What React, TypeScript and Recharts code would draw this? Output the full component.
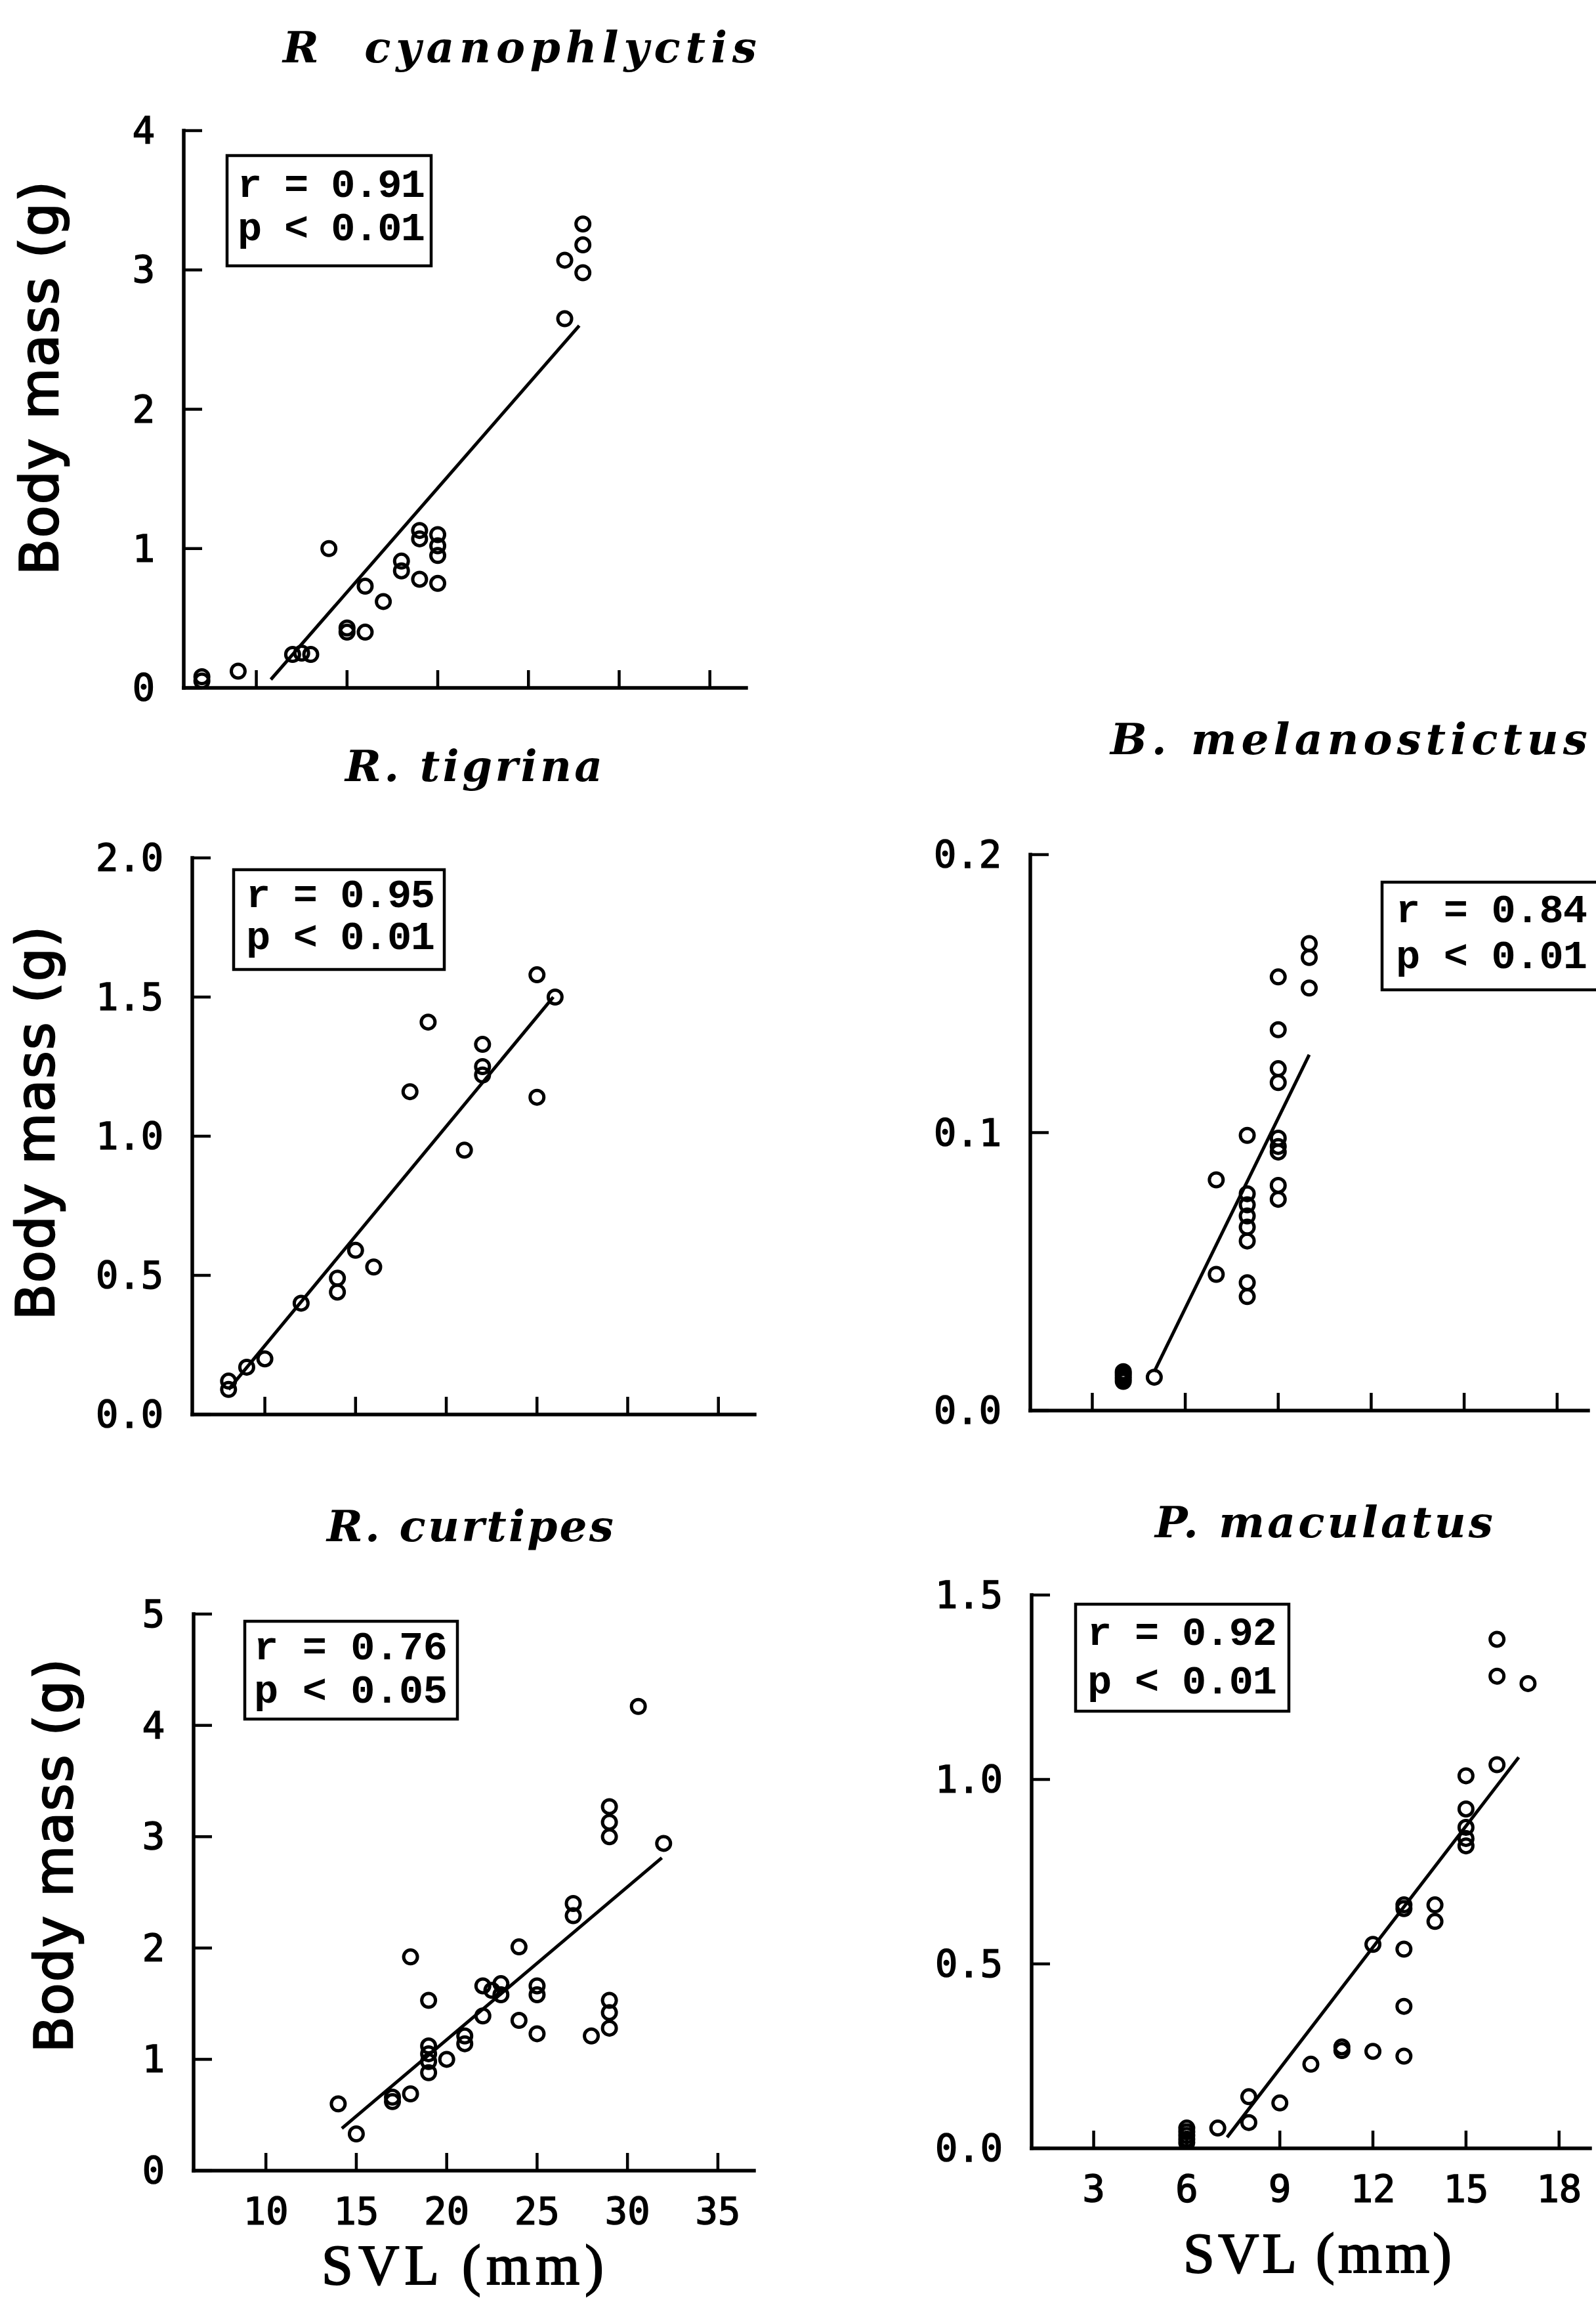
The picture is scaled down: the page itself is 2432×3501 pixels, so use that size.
import React from "react";
import { ScatterChart, Scatter, XAxis, YAxis, ReferenceLine } from "recharts";

// [SVL (mm), body mass (g)]
const cyanophlyctisPts = [
  [7, 0.05], [7, 0.08], [9, 0.12], [12, 0.24], [12.5, 0.25], [13, 0.24], [14, 1.0],
  [15, 0.43], [15, 0.4], [16, 0.4], [16, 0.73], [17, 0.62], [18, 0.91], [18, 0.84],
  [19, 1.13], [19, 1.07], [19, 0.78], [20, 1.1], [20, 1.02], [20, 0.95], [20, 0.75],
  [27, 3.07], [27, 2.65], [28, 3.33], [28, 3.18], [28, 2.98],
];
const cyanophlyctisFit = [[10.8, 0.06], [27.8, 2.6]];

const tigrinaPts = [
  [8, 0.12], [8, 0.09], [9, 0.17], [10, 0.2], [12, 0.4], [14, 0.49], [14, 0.44],
  [15, 0.59], [16, 0.53], [18, 1.16], [19, 1.41], [21, 0.95], [22, 1.33], [22, 1.25],
  [22, 1.22], [25, 1.58], [25, 1.14], [26, 1.5],
];
const tigrinaFit = [[8, 0.09], [25.9, 1.5]];

const curtipesPts = [
  [14, 0.6], [15, 0.33], [17, 0.62], [17, 0.66], [18, 0.69], [18, 1.92], [19, 1.53],
  [19, 1.12], [19, 1.05], [19, 0.98], [19, 0.88], [20, 1.0], [21, 1.14], [21, 1.21],
  [22, 1.39], [22, 1.66], [22.5, 1.62], [23, 1.68], [23, 1.58], [24, 2.01], [24, 1.35],
  [25, 1.66], [25, 1.58], [25, 1.23], [27, 2.4], [27, 2.29], [28, 1.21], [29, 1.53],
  [29, 1.42], [29, 1.28], [29, 3.27], [29, 3.13], [29, 3.0], [30.6, 4.17], [32, 2.94],
];
const curtipesFit = [[14.2, 0.38], [31.9, 2.81]];

const melanostictusPts = [
  [4, 0.0105], [4, 0.0115], [4, 0.0125], [4, 0.0133], [4, 0.014], [5, 0.012],
  [7, 0.049], [7, 0.083], [8, 0.099], [8, 0.078], [8, 0.074], [8, 0.07], [8, 0.066],
  [8, 0.061], [8, 0.046], [8, 0.041], [9, 0.156], [9, 0.137], [9, 0.123], [9, 0.118],
  [9, 0.098], [9, 0.095], [9, 0.093], [9, 0.081], [9, 0.076], [10, 0.168], [10, 0.163],
  [10, 0.152],
];
const melanostictusFit = [[5, 0.014], [10, 0.128]];

const maculatusPts = [
  [6, 0.015], [6, 0.025], [6, 0.035], [6, 0.045], [6, 0.055], [7, 0.055], [8, 0.14],
  [8, 0.07], [9, 0.123], [10, 0.228], [11, 0.275], [11, 0.265], [12, 0.263], [12, 0.553],
  [13, 0.25], [13, 0.385], [13, 0.54], [13, 0.66], [13, 0.65], [14, 0.66], [14, 0.615],
  [15, 1.01], [15, 0.92], [15, 0.87], [15, 0.84], [15, 0.82], [16, 1.04], [16, 1.28],
  [16, 1.38], [17, 1.26],
];
const maculatusFit = [[7.3, 0.03], [16.7, 1.06]];

const frogSvlTicks = [10, 15, 20, 25, 30, 35];
const toadSvlTicks = [3, 6, 9, 12, 15, 18];
const cyanophlyctisMassTicks = [0, 1, 2, 3, 4];
const tigrinaMassTicks = [0, 0.5, 1, 1.5, 2];
const curtipesMassTicks = [0, 1, 2, 3, 4, 5];
const melanostictusMassTicks = [0, 0.1, 0.2];
const maculatusMassTicks = [0, 0.5, 1, 1.5];

const ink = "#000";
const tickFont = "DejaVu Sans Mono";

function SvlTick(props: any) {
  const { x, y, payload, show } = props;
  return (
    <g>
      <line x1={x} y1={y} x2={x} y2={y - 27} stroke={ink} strokeWidth={4.5} />
      {show && (
        <text x={x} y={y + 82} textAnchor="middle" fontFamily={tickFont} fontSize={57}
          fill={ink} stroke={ink} strokeWidth={1.6}>
          {payload.value}
        </text>
      )}
    </g>
  );
}

function MassTick(props: any) {
  const { x, y, payload, digits } = props;
  return (
    <g>
      <line x1={x} y1={y} x2={x + 28} y2={y} stroke={ink} strokeWidth={4.5} />
      <text x={x - 44} y={y + 20} textAnchor="end" fontFamily={tickFont} fontSize={57}
        fill={ink} stroke={ink} strokeWidth={1.6}>
        {Number(payload.value).toFixed(digits)}
      </text>
    </g>
  );
}

const ring = (p: any) => (
  <circle cx={p.cx} cy={p.cy} r={10.5} fill="none" stroke={ink} strokeWidth={5} />
);

const YW = 150;
const MT = 40;
const MR = 40;
const XH = 130;

function Panel(props: any) {
  const { left, top, w, h, xDomain, xTicks, xLabels, yDomain, yTicks, digits, pts, fit } = props;
  const data = pts.map(([svl, mass]: number[]) => ({ svl, mass }));
  return (
    <div style={{ position: "absolute", left: left - YW, top: top - MT }}>
      <ScatterChart
        width={YW + w + MR}
        height={MT + h + XH}
        margin={{ top: MT, right: MR, bottom: 0, left: 0 }}
      >
        <XAxis
          type="number"
          dataKey="svl"
          domain={xDomain}
          ticks={xTicks}
          interval={0}
          height={XH}
          allowDataOverflow
          axisLine={{ stroke: ink, strokeWidth: 5.5, strokeLinecap: "square" }}
          tickLine={false}
          tickSize={0}
          tickMargin={0}
          tick={(p: any) => <SvlTick {...p} show={xLabels} />}
        />
        <YAxis
          type="number"
          dataKey="mass"
          domain={yDomain}
          ticks={yTicks}
          interval={0}
          width={YW}
          allowDataOverflow
          axisLine={{ stroke: ink, strokeWidth: 5.5, strokeLinecap: "square" }}
          tickLine={false}
          tickSize={0}
          tickMargin={0}
          tick={(p: any) => <MassTick {...p} digits={digits} />}
        />
        <ReferenceLine
          segment={[
            { x: fit[0][0], y: fit[0][1] },
            { x: fit[1][0], y: fit[1][1] },
          ]}
          stroke={ink}
          strokeWidth={5}
          ifOverflow="visible"
        />
        <Scatter data={data} shape={ring} isAnimationActive={false} />
      </ScatterChart>
    </div>
  );
}

function StatBox({ x, y, w, h, tx, b1, b2, len, r, p }: any) {
  const font = { fontFamily: "Liberation Mono", fontWeight: 700, fontSize: 62, fill: ink };
  return (
    <g>
      <rect x={x} y={y} width={w} height={h} fill="#fff" stroke={ink} strokeWidth={4.5} />
      <text x={tx} y={b1} textLength={len} lengthAdjust="spacing" style={{ whiteSpace: "pre" }} {...font}>
        {`r = ${r}`}
      </text>
      <text x={tx} y={b2} textLength={len} lengthAdjust="spacing" style={{ whiteSpace: "pre" }} {...font}>
        {`p < ${p}`}
      </text>
    </g>
  );
}

function Title({ x, y, len, children }: any) {
  return (
    <text
      x={x}
      y={y}
      textLength={len}
      lengthAdjust="spacing"
      fontFamily="DejaVu Serif"
      fontStyle="italic"
      fontWeight={700}
      fontSize={66}
      fill={ink}
      style={{ whiteSpace: "pre" }}
    >
      {children}
    </text>
  );
}

function MassLabel({ x, y }: any) {
  return (
    <text
      transform={`translate(${x}, ${y}) rotate(-90)`}
      textAnchor="middle"
      textLength={600}
      lengthAdjust="spacing"
      fontFamily="DejaVu Sans"
      fontSize={80}
      fill={ink}
      stroke={ink}
      strokeWidth={2.5}
    >
      Body mass (g)
    </text>
  );
}

function SvlLabel({ x, y, len }: any) {
  return (
    <text x={x} y={y} textLength={len} lengthAdjust="spacing" fontFamily="Liberation Serif"
      fontSize={86} fill={ink} stroke={ink} strokeWidth={2}>
      SVL (mm)
    </text>
  );
}

export default function App() {
  return (
    <div
      style={{
        position: "absolute",
        left: 0,
        top: 0,
        width: 2432,
        height: 3501,
        background: "#fff",
        overflow: "hidden",
      }}
    >
      <Panel left={280} top={199} w={857} h={849} xDomain={[6, 37]} xTicks={frogSvlTicks} xLabels={false}
        yDomain={[0, 4]} yTicks={cyanophlyctisMassTicks} digits={0} pts={cyanophlyctisPts} fit={cyanophlyctisFit} />
      <Panel left={293} top={1307} w={857} h={848} xDomain={[6, 37]} xTicks={frogSvlTicks} xLabels={false}
        yDomain={[0, 2]} yTicks={tigrinaMassTicks} digits={1} pts={tigrinaPts} fit={tigrinaFit} />
      <Panel left={295} top={2459} w={854} h={848} xDomain={[6, 37]} xTicks={frogSvlTicks} xLabels
        yDomain={[0, 5]} yTicks={curtipesMassTicks} digits={0} pts={curtipesPts} fit={curtipesFit} />
      <Panel left={1570} top={1302} w={850} h={847} xDomain={[1, 19]} xTicks={toadSvlTicks} xLabels={false}
        yDomain={[0, 0.2]} yTicks={melanostictusMassTicks} digits={1} pts={melanostictusPts} fit={melanostictusFit} />
      <Panel left={1572} top={2430} w={851} h={843} xDomain={[1, 19]} xTicks={toadSvlTicks} xLabels
        yDomain={[0, 1.5]} yTicks={maculatusMassTicks} digits={1} pts={maculatusPts} fit={maculatusFit} />

      <svg width={2432} height={3501} style={{ position: "absolute", left: 0, top: 0, pointerEvents: "none" }}>
        <Title x={431} y={95} len={722}>R  cyanophlyctis</Title>
        <Title x={526} y={1190} len={392}>R. tigrina</Title>
        <Title x={498} y={2348} len={437}>R. curtipes</Title>
        <Title x={1692} y={1149} len={727}>B. melanostictus</Title>
        <Title x={1760} y={2342} len={515}>P. maculatus</Title>

        <MassLabel x={88} y={576} />
        <MassLabel x={82} y={1711} />
        <MassLabel x={110} y={2827} />

        <SvlLabel x={490} y={3480} len={430} />
        <SvlLabel x={1803} y={3462} len={409} />

        <StatBox x={346} y={237} w={311} h={168} tx={362} b1={300} b2={366} len={286} r="0.91" p="0.01" />
        <StatBox x={356} y={1325} w={321} h={152} tx={375} b1={1382} b2={1446} len={288} r="0.95" p="0.01" />
        <StatBox x={373} y={2470} w={324} h={149} tx={387} b1={2528} b2={2594} len={295} r="0.76" p="0.05" />
        <StatBox x={2106} y={1344} w={340} h={164} tx={2127} b1={1405} b2={1475} len={292} r="0.84" p="0.01" />
        <StatBox x={1639} y={2444} w={325} h={163} tx={1657} b1={2506} b2={2580} len={289} r="0.92" p="0.01" />
      </svg>
    </div>
  );
}
